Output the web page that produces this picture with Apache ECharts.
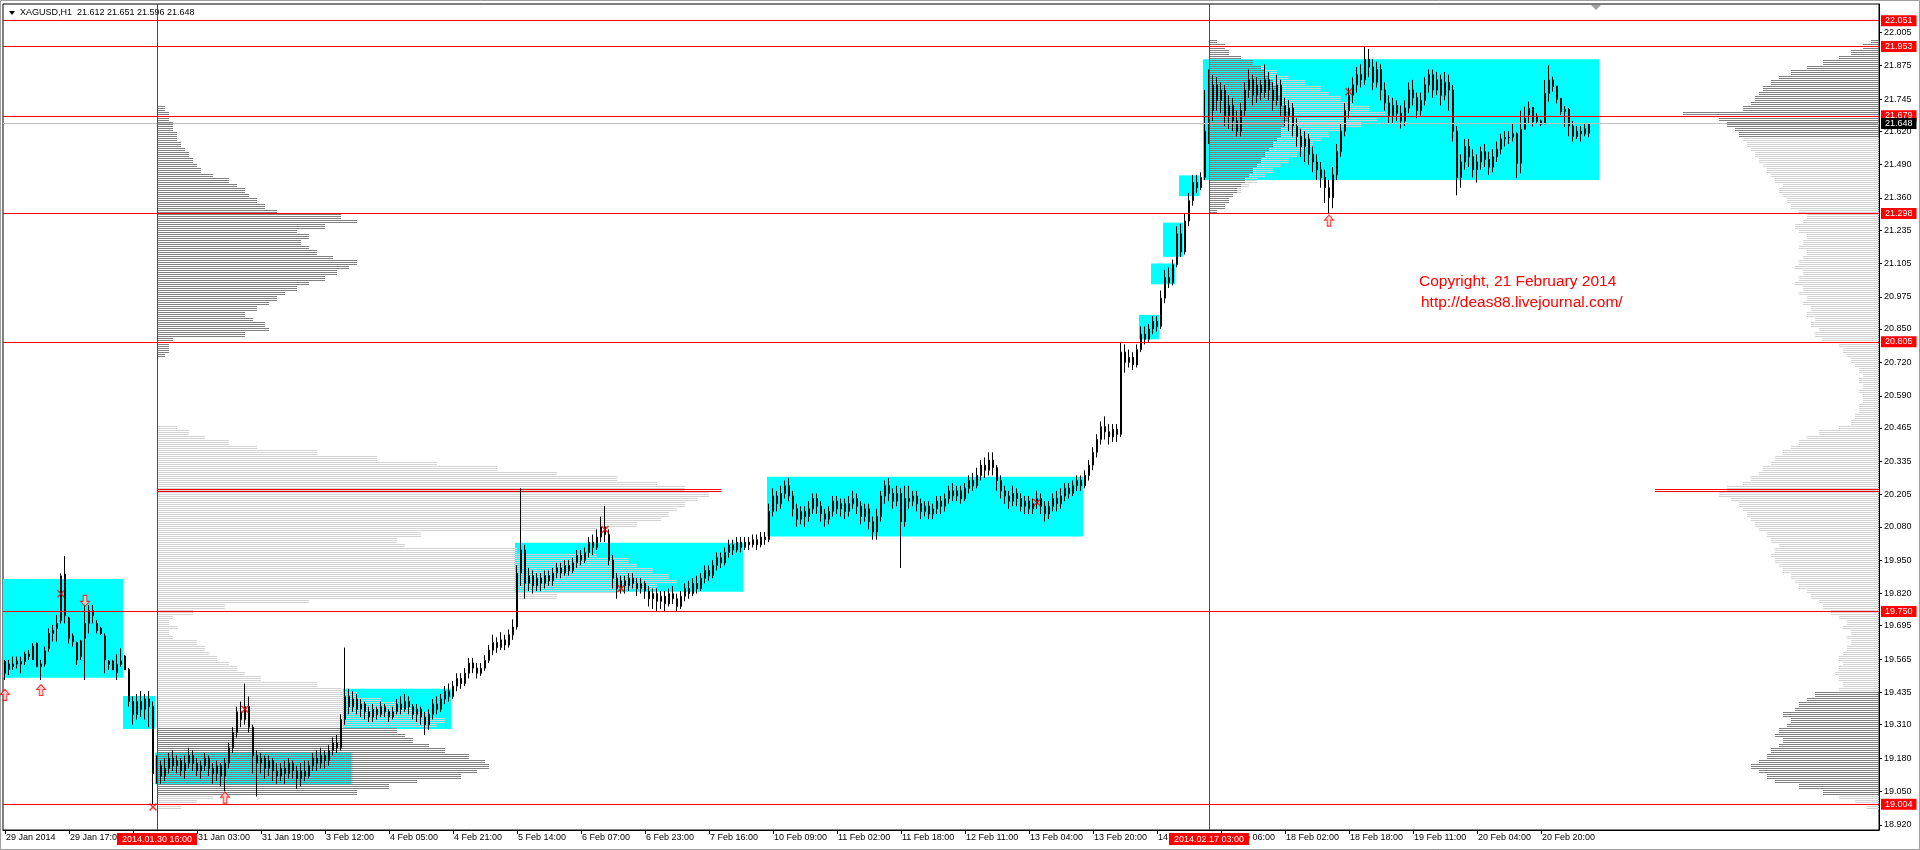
<!DOCTYPE html>
<html><head><meta charset="utf-8">
<script src="https://cdn.jsdelivr.net/npm/echarts@6/dist/echarts.min.js"></script>
<style>html,body{margin:0;padding:0;background:#fff}#c{width:1920px;height:850px}</style>
</head><body><div id="c"></div>
<script>
// ---------------- DATA ----------------
const symbolTitle = 'XAGUSD,H1';
const headerOHLC = [21.612, 21.651, 21.596, 21.648];
const barCount = 469;
const tickEvery = 16;
const tickLabels = ['29 Jan 2014','29 Jan 17:00','30 Jan 10:00','31 Jan 03:00','31 Jan 19:00','3 Feb 12:00','4 Feb 05:00','4 Feb 21:00','5 Feb 14:00','6 Feb 07:00','6 Feb 23:00','7 Feb 16:00','10 Feb 09:00','11 Feb 02:00','11 Feb 18:00','12 Feb 11:00','13 Feb 04:00','13 Feb 20:00','14 Feb 13:00','17 Feb 06:00','18 Feb 02:00','18 Feb 18:00','19 Feb 11:00','20 Feb 04:00','20 Feb 20:00'];
const yTickValues = [22.005,21.875,21.745,21.620,21.490,21.360,21.235,21.105,20.975,20.850,20.720,20.590,20.465,20.335,20.205,20.080,19.950,19.820,19.695,19.565,19.435,19.310,19.180,19.050,18.920];
const yMin = 18.900, yMax = 22.115;

// candles: [open, close, low, high]
const candles = [
[19.556,19.510,19.484,19.562],[19.525,19.546,19.503,19.562],[19.536,19.546,19.523,19.575],[19.546,19.558,19.529,19.575],[19.546,19.556,19.510,19.575],
[19.556,19.585,19.542,19.594],[19.585,19.576,19.562,19.601],[19.564,19.616,19.562,19.627],[19.627,19.536,19.533,19.630],[19.536,19.546,19.484,19.562],
[19.546,19.597,19.536,19.614],[19.606,19.665,19.594,19.685],[19.665,19.678,19.633,19.698],[19.684,19.704,19.633,19.737],[19.715,19.889,19.704,19.899],
[19.896,19.734,19.704,19.966],[19.725,19.646,19.626,19.730],[19.655,19.633,19.614,19.665],[19.629,19.562,19.542,19.633],[19.575,19.636,19.562,19.640],
[19.646,19.704,19.484,19.782],[19.704,19.754,19.665,19.776],[19.754,19.734,19.704,19.776],[19.704,19.676,19.665,19.717],[19.685,19.665,19.659,19.691],
[19.655,19.562,19.510,19.665],[19.558,19.545,19.523,19.562],[19.558,19.523,19.523,19.562],[19.512,19.545,19.484,19.584],[19.545,19.558,19.536,19.607],
[19.577,19.523,19.523,19.581],[19.525,19.400,19.380,19.530],[19.40,19.35,19.31,19.42],[19.35,19.40,19.33,19.43],[19.40,19.37,19.34,19.44],
[19.37,19.41,19.33,19.43],[19.41,19.38,19.30,19.44],[19.38,19.12,19.00,19.40],
[19.12,19.15,19.08,19.19],[19.15,19.11,19.08,19.17],[19.11,19.14,19.09,19.18],[19.14,19.18,19.12,19.20],[19.18,19.15,19.13,19.21],
[19.15,19.17,19.12,19.19],[19.17,19.13,19.11,19.18],[19.13,19.16,19.10,19.19],[19.16,19.19,19.14,19.22],[19.19,19.16,19.13,19.21],
[19.16,19.13,19.11,19.18],[19.13,19.15,19.10,19.17],[19.15,19.18,19.13,19.20],[19.18,19.14,19.11,19.19],[19.14,19.12,19.08,19.16],
[19.12,19.15,19.09,19.17],[19.15,19.11,19.07,19.16],[19.11,19.16,19.05,19.18],[19.16,19.22,19.14,19.24],[19.22,19.28,19.20,19.30],
[19.28,19.36,19.26,19.38],[19.36,19.33,19.30,19.40],[19.33,19.38,19.31,19.47],[19.38,19.30,19.28,19.42],[19.30,19.19,19.12,19.31],
[19.19,19.16,19.03,19.21],[19.16,19.18,19.12,19.20],[19.18,19.14,19.10,19.19],[19.14,19.17,19.11,19.19],[19.17,19.13,19.09,19.18],
[19.13,19.11,19.08,19.16],[19.11,19.14,19.09,19.16],[19.14,19.12,19.08,19.17],[19.12,19.16,19.10,19.18],[19.16,19.13,19.10,19.17],
[19.13,19.10,19.06,19.15],[19.10,19.13,19.07,19.16],[19.13,19.11,19.09,19.17],[19.11,19.15,19.10,19.17],[19.15,19.18,19.13,19.20],
[19.18,19.16,19.13,19.21],[19.16,19.19,19.14,19.22],[19.19,19.17,19.14,19.21],[19.17,19.21,19.15,19.23],[19.21,19.24,19.19,19.26],
[19.24,19.22,19.20,19.27],[19.22,19.33,19.21,19.35],[19.33,19.42,19.31,19.61],[19.42,19.38,19.35,19.45],
[19.38,19.41,19.36,19.44],[19.41,19.37,19.35,19.43],[19.37,19.39,19.34,19.41],[19.39,19.36,19.33,19.40],[19.36,19.34,19.32,19.38],
[19.34,19.37,19.32,19.39],[19.37,19.35,19.33,19.38],[19.35,19.38,19.34,19.40],[19.38,19.36,19.34,19.39],[19.36,19.34,19.32,19.37],
[19.34,19.36,19.33,19.38],[19.36,19.39,19.35,19.41],[19.39,19.37,19.35,19.42],[19.37,19.40,19.36,19.43],[19.40,19.38,19.35,19.42],
[19.38,19.35,19.33,19.39],[19.35,19.37,19.32,19.39],[19.37,19.34,19.31,19.38],[19.34,19.31,19.27,19.36],[19.31,19.35,19.29,19.37],
[19.35,19.39,19.33,19.41],[19.39,19.37,19.35,19.42],[19.37,19.41,19.36,19.43],[19.41,19.44,19.39,19.46],[19.44,19.42,19.40,19.47],
[19.42,19.46,19.41,19.48],[19.46,19.49,19.44,19.51],[19.49,19.47,19.45,19.51],[19.47,19.51,19.46,19.53],[19.51,19.55,19.49,19.57],
[19.55,19.53,19.51,19.57],[19.53,19.51,19.49,19.55],[19.51,19.53,19.50,19.55],[19.53,19.56,19.52,19.58],[19.56,19.60,19.55,19.62],
[19.60,19.63,19.58,19.66],[19.63,19.61,19.59,19.65],[19.61,19.64,19.60,19.67],[19.64,19.62,19.60,19.66],[19.62,19.66,19.61,19.68],
[19.66,19.69,19.64,19.72],[19.69,19.90,19.68,19.93],[19.90,19.99,19.85,20.23],[19.99,19.86,19.80,20.01],
[19.86,19.89,19.83,19.92],[19.89,19.85,19.82,19.91],[19.85,19.88,19.83,19.90],[19.88,19.86,19.83,19.90],[19.86,19.89,19.84,19.91],
[19.89,19.87,19.85,19.91],[19.87,19.90,19.85,19.92],[19.90,19.92,19.88,19.94],[19.92,19.90,19.88,19.94],[19.90,19.93,19.89,19.95],
[19.93,19.91,19.89,19.95],[19.91,19.94,19.90,19.96],[19.94,19.97,19.92,19.99],[19.97,19.95,19.93,19.99],[19.95,19.98,19.94,20.00],
[19.98,20.02,19.96,20.04],[20.02,20.00,19.97,20.05],[20.00,20.04,19.99,20.07],[20.04,20.08,20.02,20.12],[20.08,20.05,20.02,20.16],
[20.05,19.95,19.93,20.07],[19.95,19.88,19.84,19.97],[19.88,19.84,19.80,19.90],[19.84,19.87,19.82,19.89],[19.87,19.85,19.82,19.89],
[19.85,19.88,19.83,19.90],[19.88,19.86,19.84,19.90],[19.86,19.84,19.81,19.88],[19.84,19.86,19.82,19.88],[19.86,19.83,19.80,19.87],
[19.83,19.80,19.77,19.85],[19.80,19.82,19.76,19.84],[19.82,19.79,19.75,19.84],[19.79,19.81,19.76,19.83],[19.81,19.78,19.75,19.83],
[19.78,19.82,19.77,19.84],[19.82,19.80,19.78,19.85],[19.80,19.77,19.75,19.82],[19.77,19.81,19.76,19.83],[19.81,19.84,19.79,19.86],
[19.84,19.82,19.80,19.87],[19.82,19.86,19.81,19.88],[19.86,19.84,19.82,19.89],[19.84,19.88,19.83,19.90],[19.88,19.91,19.86,19.93],
[19.91,19.89,19.87,19.93],[19.89,19.93,19.88,19.95],[19.93,19.96,19.91,19.98],[19.96,19.94,19.92,19.98],[19.94,19.98,19.93,20.00],
[19.98,20.01,19.96,20.03],[20.01,19.99,19.97,20.03],[19.99,20.02,19.98,20.04],[20.02,20.00,19.98,20.04],[20.00,20.02,19.99,20.04],
[20.02,20.01,19.99,20.04],[20.01,20.03,20.00,20.05],[20.03,20.01,19.99,20.05],[20.01,20.04,20.00,20.06],[20.04,20.03,20.01,20.06],
[20.03,20.14,20.02,20.17],
[20.14,20.20,20.12,20.23],[20.20,20.17,20.14,20.22],[20.17,20.21,20.15,20.24],[20.21,20.24,20.19,20.26],[20.24,20.20,20.18,20.27],
[20.20,20.15,20.12,20.22],[20.15,20.11,20.08,20.17],[20.11,20.14,20.09,20.16],[20.14,20.12,20.08,20.16],[20.12,20.15,20.10,20.18],
[20.15,20.19,20.13,20.21],[20.19,20.16,20.13,20.21],[20.16,20.13,20.10,20.18],[20.13,20.11,20.08,20.15],[20.11,20.14,20.09,20.16],
[20.14,20.18,20.12,20.20],[20.18,20.15,20.13,20.20],[20.15,20.17,20.12,20.19],[20.17,20.14,20.11,20.19],[20.14,20.17,20.12,20.20],
[20.17,20.19,20.15,20.22],[20.19,20.16,20.13,20.21],[20.16,20.12,20.09,20.18],[20.12,20.15,20.10,20.17],[20.15,20.10,20.07,20.17],
[20.10,20.06,20.03,20.12],[20.06,20.12,20.03,20.15],[20.12,20.20,20.10,20.22],[20.20,20.24,20.17,20.26],[20.24,20.21,20.18,20.27],
[20.21,20.18,20.15,20.23],[20.18,20.21,20.16,20.24],[20.21,20.10,19.92,20.23],[20.10,20.19,20.08,20.24],[20.19,20.18,20.15,20.24],
[20.18,20.20,20.16,20.22],[20.20,20.17,20.14,20.22],[20.17,20.14,20.11,20.19],[20.14,20.16,20.12,20.18],[20.16,20.13,20.11,20.18],
[20.13,20.15,20.11,20.17],[20.15,20.18,20.13,20.20],[20.18,20.16,20.13,20.20],[20.16,20.19,20.14,20.21],[20.19,20.22,20.17,20.24],
[20.22,20.20,20.18,20.25],[20.20,20.22,20.18,20.24],[20.22,20.19,20.17,20.24],[20.19,20.23,20.18,20.25],[20.23,20.26,20.21,20.28],
[20.26,20.24,20.22,20.29],[20.24,20.28,20.23,20.31],[20.28,20.32,20.26,20.34],[20.32,20.30,20.27,20.35],[20.30,20.34,20.28,20.37],
[20.34,20.31,20.28,20.37],[20.31,20.26,20.22,20.32],[20.26,20.22,20.19,20.28],[20.22,20.20,20.17,20.24],[20.20,20.18,20.15,20.22],
[20.18,20.21,20.16,20.24],[20.21,20.19,20.16,20.23],[20.19,20.16,20.14,20.21],[20.16,20.18,20.13,20.20],[20.18,20.15,20.13,20.20],
[20.15,20.17,20.13,20.19],[20.17,20.19,20.15,20.22],[20.19,20.16,20.13,20.21],[20.16,20.13,20.10,20.18],[20.13,20.16,20.11,20.18],
[20.16,20.19,20.14,20.21],[20.19,20.17,20.14,20.22],[20.17,20.20,20.15,20.23],[20.20,20.23,20.18,20.25],[20.23,20.21,20.19,20.25],
[20.21,20.24,20.20,20.26],[20.24,20.26,20.22,20.28],[20.26,20.24,20.22,20.28],[20.24,20.28,20.23,20.30],
[20.28,20.32,20.26,20.34],[20.32,20.37,20.30,20.39],[20.37,20.42,20.35,20.44],[20.42,20.47,20.40,20.49],[20.47,20.45,20.42,20.51],
[20.45,20.43,20.40,20.48],[20.43,20.46,20.41,20.48],[20.46,20.44,20.41,20.48],[20.44,20.76,20.43,20.80],[20.76,20.72,20.68,20.79],
[20.72,20.74,20.70,20.77],[20.74,20.71,20.69,20.76],[20.71,20.77,20.70,20.79],
[20.77,20.83,20.76,20.86],[20.83,20.81,20.79,20.86],[20.81,20.85,20.80,20.87],[20.85,20.88,20.83,20.90],[20.88,20.86,20.84,20.90],
[20.86,20.97,20.85,21.00],[20.97,21.05,20.95,21.08],[21.05,21.03,21.01,21.09],[21.03,21.10,21.02,21.12],[21.10,21.22,21.09,21.25],
[21.22,21.15,21.13,21.26],[21.15,21.27,21.14,21.30],[21.27,21.35,21.25,21.38],[21.35,21.42,21.33,21.45],[21.42,21.40,21.38,21.45],
[21.40,21.44,21.39,21.46],[21.44,21.62,21.43,21.78],
[21.62,21.70,21.57,21.86],[21.70,21.80,21.66,21.84],[21.80,21.74,21.70,21.83],[21.74,21.78,21.69,21.81],[21.78,21.68,21.64,21.80],
[21.68,21.72,21.63,21.76],[21.72,21.66,21.62,21.75],[21.66,21.62,21.60,21.70],[21.62,21.70,21.60,21.73],[21.70,21.78,21.68,21.81],
[21.78,21.82,21.75,21.86],[21.82,21.76,21.72,21.84],[21.76,21.80,21.73,21.83],[21.80,21.77,21.74,21.82],[21.77,21.82,21.75,21.88],
[21.82,21.78,21.74,21.85],[21.78,21.74,21.70,21.81],[21.74,21.80,21.72,21.84],[21.80,21.72,21.68,21.82],[21.72,21.68,21.64,21.75],
[21.68,21.71,21.62,21.74],[21.71,21.64,21.60,21.73],[21.64,21.60,21.56,21.67],[21.60,21.56,21.52,21.63],[21.56,21.59,21.50,21.62],
[21.59,21.53,21.49,21.61],[21.53,21.50,21.46,21.56],[21.50,21.47,21.43,21.53],[21.47,21.44,21.40,21.50],[21.44,21.40,21.34,21.47],
[21.40,21.36,21.30,21.43],[21.36,21.45,21.32,21.48],[21.45,21.54,21.43,21.57],[21.54,21.62,21.52,21.65],[21.62,21.70,21.60,21.73],
[21.70,21.76,21.67,21.79],[21.76,21.80,21.73,21.83],[21.80,21.84,21.77,21.87],[21.84,21.82,21.79,21.88],[21.82,21.90,21.80,21.95],
[21.90,21.87,21.83,21.94],[21.87,21.81,21.78,21.90],[21.81,21.86,21.79,21.89],[21.86,21.78,21.74,21.88],[21.78,21.73,21.70,21.81],
[21.73,21.68,21.65,21.76],[21.68,21.72,21.65,21.75],[21.72,21.69,21.66,21.74],[21.69,21.66,21.63,21.72],[21.66,21.71,21.64,21.74],
[21.71,21.78,21.69,21.81],[21.78,21.75,21.72,21.82],[21.75,21.70,21.67,21.77],[21.70,21.74,21.68,21.77],[21.74,21.80,21.72,21.83],
[21.80,21.84,21.77,21.86],[21.84,21.78,21.75,21.86],[21.78,21.82,21.76,21.85],[21.82,21.76,21.72,21.84],[21.76,21.81,21.74,21.85],
[21.81,21.78,21.70,21.84],[21.78,21.62,21.58,21.80],[21.62,21.44,21.37,21.64],[21.44,21.50,21.40,21.53],[21.50,21.56,21.47,21.59],
[21.56,21.52,21.48,21.59],[21.52,21.47,21.44,21.55],[21.47,21.50,21.42,21.53],[21.50,21.54,21.47,21.56],[21.54,21.51,21.48,21.57],
[21.51,21.48,21.45,21.54],[21.48,21.52,21.46,21.55],[21.52,21.55,21.50,21.58],[21.55,21.59,21.53,21.61],[21.59,21.595,21.56,21.62],
[21.595,21.595,21.57,21.62],[21.597,21.61,21.58,21.65],[21.61,21.495,21.437,21.615],[21.495,21.627,21.456,21.70],[21.627,21.670,21.63,21.715],
[21.683,21.709,21.65,21.735],[21.713,21.657,21.638,21.713],[21.679,21.657,21.648,21.69],[21.66,21.647,21.64,21.665],[21.648,21.767,21.648,21.819],
[21.767,21.819,21.735,21.877],[21.819,21.794,21.774,21.832],[21.796,21.744,21.728,21.796],[21.748,21.696,21.683,21.748],[21.696,21.705,21.637,21.718],
[21.705,21.64,21.60,21.71],[21.64,21.60,21.58,21.66],[21.60,21.62,21.59,21.64],[21.62,21.61,21.58,21.64],[21.61,21.63,21.60,21.65],
[21.612,21.648,21.596,21.651]
];

// horizontal levels (red), bid line, vertical markers
const levelPrices = [22.051, 21.953, 21.679, 21.298, 20.805, 19.750, 19.004];
const bidPrice = 21.648;
const vLineBars = [38, 301];
const vLineLabels = ['2014.01.30 16:00', '2014.02.17 03:00'];

// cyan boxes: [firstBar, lastBar, lowPrice, highPrice]
const boxes = [
  [0, 29, 19.493, 19.877],
  [30, 37, 19.293, 19.422],
  [38, 86, 19.078, 19.202],
  [85, 111, 19.293, 19.450],
  [128, 184, 19.827, 20.018],
  [191, 269, 20.042, 20.275],
  [284, 288, 20.810, 20.905],
  [287, 292, 21.024, 21.105],
  [290, 294, 21.131, 21.264],
  [294, 298, 21.367, 21.448],
  [300, 398, 21.430, 21.900]
];

// volume profiles (row height profStep, lengths in bars)
const profStep = 0.02;
const profLeftUpperAnchor = 38, profLeftUpperStart = 20.74;
const profLeftUpper = [2,3,3,4,22,28,27,24,22,25,28,30,32,35,38,42,45,48,50,44,40,38,36,38,35,42,50,46,30,27,25,23,22,20,18,14,11,10,9,8,7,6,5,5,4,4,3,3,2];
const profLeftLowerAnchor = 38, profLeftLowerStart = 18.98;
const profLeftLower = [6,10,14,50,58,65,76,80,83,82,78,72,68,64,62,60,70,72,68,64,60,56,50,46,40,26,22,20,18,15,13,12,10,4,3,5,3,4,9,17,38,100,115,125,130,128,124,120,118,110,90,62,60,66,110,120,126,128,130,132,135,138,132,125,115,100,85,70,55,40,25,18,12,8,5];
const profLeftLowerDark = [19.04, 19.28];
const profMidAnchor = 301, profMidStart = 21.30;
const profMid = [2,4,5,6,8,10,12,14,16,18,20,22,24,26,28,30,33,38,42,44,40,36,33,30,28,24,20,17,14,11,8,5,4,2];
const profMidDarkPart = [2,4,5,6,7,8,9,10,11,12,13,14,15,16,17,18,18,19,20,20,19,18,18,17,17,16,15,14,13,11,8,5,4,2];
const profRightStart = 18.98;
const profRight = [
 3,6,10,14,20,26,28,30,32,30, 28,27,25,24,26,25,23,22,24,21, 20,18,16,10,9,10,11,10,9,10, 9,8,7,8,7,9,8,10,12,14, 15,17,18,20,21,22,24,25,26,27,
 26,25,27,28,30,31,32,33,34,35, 37,40,38,34,32,30,29,27,26,24, 22,20,18,15,10,7,6,5,5,4, 4,5,4,5,4,5,6,7,8,9, 10,14,16,15,17,16,18,17,19,18,
 20,19,21,20,19,21,20,19,18,20, 19,18,20,21,19,18,20,22,23,24, 25,24,26,27,28,29,30,31,32,33, 34,35,36,38,40,49,34,32,31,30, 29,27,25,22,18,14,10,7,4,2
];
const profRightDark = [[19.04, 19.42], [21.60, 22.0]];
// point of control lines: [anchorBar (-1 = right edge), price, lengthBars]
const pocLines = [[38, 20.218, 141], [-1, 20.218, 56]];

// signal marks: [bar, price]
const upArrows = [[0, 19.426], [9, 19.445], [55, 19.026], [331, 21.272]];
const downArrows = [[20, 19.792]];
const crossMarks = [[14, 19.82], [37, 18.99], [60, 19.37], [150, 20.07], [154, 19.84], [258, 20.175], [336, 21.773]];

const copyrightLines = ['Copyright, 21 February 2014', 'http://deas88.livejournal.com/'];

// ---------------- CHART ----------------
const FONT = 'Liberation Sans, Arial, sans-serif';
const categories = [];
for (let i = 0; i < barCount; i++) categories.push(String(i));
const lastTick = (tickLabels.length - 1) * tickEvery;
const showTick = idx => idx % tickEvery === 0 && idx <= lastTick;

const chart = echarts.init(document.getElementById('c'), null, {renderer: 'canvas'});

function profileRows(anchor, start, lens, darkTest) {
  return lens.map((len, i) => {
    const p = +(start + i * profStep).toFixed(3);
    return [anchor, p, len, darkTest(p) ? 1 : 0];
  });
}
const inRange = (p, r) => p >= r[0] - 1e-9 && p <= r[1] + 1e-9;

const profileData = []
  .concat(profileRows(profLeftUpperAnchor, profLeftUpperStart, profLeftUpper, () => true))
  .concat(profileRows(profLeftLowerAnchor, profLeftLowerStart, profLeftLower, p => inRange(p, profLeftLowerDark)))
  .concat(profileRows(profMidAnchor, profMidStart, profMid, () => false))
  .concat(profileRows(profMidAnchor, profMidStart, profMidDarkPart, () => true))
  .concat(profileRows(-1, profRightStart, profRight, p => profRightDark.some(r => inRange(p, r))));

function renderProfile(params, api) {
  const cs = params.coordSys;
  const anchor = api.value(0), p = api.value(1), len = api.value(2), dark = api.value(3);
  const bw = api.size([1, 0])[0];
  const yTop = api.coord([0, p + profStep])[1];
  const yBot = api.coord([0, p])[1];
  const w = len * bw;
  const x0 = anchor < 0 ? cs.x + cs.width - w : api.coord([anchor, p])[0];
  const children = [];
  for (let y = Math.ceil(yTop); y < yBot; y++) {
    if (y % 2 === 0) children.push({type: 'rect', shape: {x: x0, y: y, width: w, height: 1},
      style: {fill: dark ? '#808080' : '#d3d3d3'}});
  }
  return {type: 'group', children};
}

function renderPoc(params, api) {
  const cs = params.coordSys;
  const anchor = api.value(0), p = api.value(1), len = api.value(2);
  const bw = api.size([1, 0])[0];
  const w = len * bw;
  const x0 = anchor < 0 ? cs.x + cs.width - w : api.coord([anchor, p])[0];
  const y = Math.round(api.coord([0, p])[1]);
  return {type: 'group', children: [
    {type: 'rect', shape: {x: x0, y: y - 2, width: w, height: 1}, style: {fill: '#ff0000'}},
    {type: 'rect', shape: {x: x0, y: y, width: w, height: 1}, style: {fill: '#ff0000'}}
  ]};
}

function renderBox(params, api) {
  const bw = api.size([1, 0])[0];
  const a = api.coord([api.value(0), api.value(3)]);
  const b = api.coord([api.value(1), api.value(2)]);
  return {type: 'rect', shape: {x: a[0] - bw / 2, y: a[1], width: b[0] - a[0] + bw, height: b[1] - a[1]},
    style: {fill: '#00ffff'}};
}

const upPath = 'path://M5,0 L10,5 L7,5 L7,11 L3,11 L3,5 L0,5 Z';
const downPath = 'path://M3,0 L7,0 L7,6 L10,6 L5,11 L0,6 L3,6 Z';
const crossPath = 'path://M0,1 L1,0 L4,3 L7,0 L8,1 L5,4 L8,7 L7,8 L4,5 L1,8 L0,7 L3,4 Z';
const marks = []
  .concat(upArrows.map(d => ({value: d, symbol: upPath, symbolSize: [9, 11], itemStyle: {color: '#ffc8c8', borderColor: '#ff0000', borderWidth: 1}})))
  .concat(downArrows.map(d => ({value: d, symbol: downPath, symbolSize: [9, 11], itemStyle: {color: '#ffc8c8', borderColor: '#ff0000', borderWidth: 1}})))
  .concat(crossMarks.map(d => ({value: d, symbol: crossPath, symbolSize: [8, 8], itemStyle: {color: '#ff0000'}})));

const lineLabelBase = {show: true, fontSize: 9, fontFamily: FONT, color: '#fff', lineHeight: 9, padding: [1, 4, 1, 4]};
const markLineData = []
  .concat(levelPrices.map(v => ({yAxis: v, lineStyle: {color: '#ff0000', width: 1, type: 'solid'},
    label: Object.assign({}, lineLabelBase, {position: 'end', distance: 2, formatter: v.toFixed(3), backgroundColor: '#ff0000'})})))
  .concat([{yAxis: bidPrice, lineStyle: {color: '#c0c0c0', width: 1, type: 'solid'},
    label: Object.assign({}, lineLabelBase, {position: 'end', distance: 2, formatter: bidPrice.toFixed(3), backgroundColor: '#000'})}])
  .concat(vLineBars.map((b, i) => ({xAxis: b, lineStyle: {color: '#ff0000', width: 1, type: 'solid'},
    label: Object.assign({}, lineLabelBase, {position: 'start', distance: 3, formatter: vLineLabels[i], backgroundColor: '#ff0000', padding: [2, 5, 1, 5]})})));

const option = {
  animation: false,
  backgroundColor: '#fff',
  textStyle: {fontFamily: FONT},
  grid: {left: 3, right: 41, top: 4, bottom: 20, show: true, borderColor: '#000', borderWidth: 1, backgroundColor: '#fff'},
  xAxis: {
    type: 'category', data: categories, boundaryGap: true,
    axisLine: {show: true, lineStyle: {color: '#000', width: 1}},
    axisTick: {show: true, interval: (idx) => showTick(idx), alignWithLabel: true, length: 4, lineStyle: {color: '#000'}},
    axisLabel: {show: true, interval: (idx) => showTick(idx), align: 'left', margin: 3, fontSize: 9, fontFamily: FONT, color: '#000',
      padding: [0, 0, 0, 1], formatter: (v, i) => tickLabels[i / tickEvery] || ''},
    splitLine: {show: false}
  },
  yAxis: {
    type: 'value', position: 'right', min: yMin, max: yMax, scale: true,
    axisLine: {show: true, lineStyle: {color: '#000', width: 1}},
    axisTick: {show: true, length: 3, customValues: yTickValues, lineStyle: {color: '#000'}},
    axisLabel: {show: true, customValues: yTickValues, margin: 5, fontSize: 9, fontFamily: FONT, color: '#000',
      formatter: v => Number(v).toFixed(3)},
    splitLine: {show: false}
  },
  series: [
    {type: 'custom', name: 'boxes', z: 1, renderItem: renderBox, data: boxes, encode: {x: [0, 1], y: [2, 3]}, silent: true},
    {type: 'custom', name: 'profile', z: 1, renderItem: renderProfile, data: profileData, encode: {x: 0, y: 1}, silent: true},
    {type: 'custom', name: 'poc', z: 1, renderItem: renderPoc, data: pocLines, encode: {x: 0, y: 1}, silent: true},
    {type: 'candlestick', name: symbolTitle, z: 2, data: candles, barWidth: 2,
      itemStyle: {color: '#ffffff', color0: '#000000', borderColor: '#000000', borderColor0: '#000000', borderWidth: 1},
      markLine: {silent: true, symbol: 'none', animation: false, data: markLineData}},
    {type: 'scatter', name: 'marks', z: 6, data: marks, silent: true}
  ],
  graphic: [
    {type: 'rect', shape: {x: 0.5, y: 0.5, width: 1919, height: 849}, style: {fill: 'none', stroke: '#a0a0a0', lineWidth: 1}, silent: true},
    {type: 'polygon', shape: {points: [[9, 11], [15, 11], [12, 15]]}, style: {fill: '#000'}, silent: true},
    {type: 'text', x: 20, y: 13, style: {text: symbolTitle + '  ' + headerOHLC.map(v => v.toFixed(3)).join(' '),
      font: '9px ' + FONT, fill: '#000', verticalAlign: 'middle'}, silent: true},
    {type: 'polygon', shape: {points: [[1591, 5], [1601, 5], [1596, 10]]}, style: {fill: '#a0a0a0'}, silent: true},
    {type: 'text', x: 1419, y: 282, style: {text: copyrightLines[0], font: '15.5px ' + FONT, fill: '#ff0000', verticalAlign: 'middle'}, silent: true},
    {type: 'text', x: 1421, y: 303, style: {text: copyrightLines[1], font: '15.5px ' + FONT, fill: '#ff0000', verticalAlign: 'middle'}, silent: true}
  ]
};
chart.setOption(option);
</script>
</body></html>
